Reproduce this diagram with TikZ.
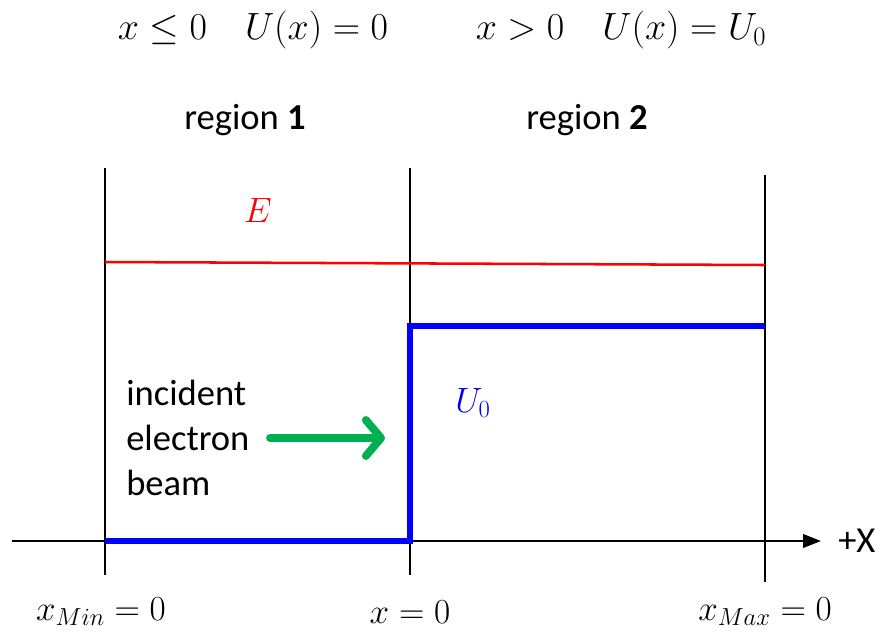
\RequirePackage{fix-cm}
\documentclass[tikz,border=0pt]{standalone}
\usepackage{fontspec}
\setsansfont{Carlito}
\usetikzlibrary{arrows.meta}
\definecolor{rojo}{HTML}{FF0000}
\definecolor{azul}{HTML}{0000FF}
\definecolor{verde}{HTML}{00B050}

\begin{document}
\begin{tikzpicture}[x=0.025cm, y=-0.025cm,
      wall/.style={line width=1.5pt},
      eq/.style={font=\fontsize{25}{30}\selectfont, inner sep=0pt},
      lab/.style={font=\sffamily\fontsize{26}{32}\selectfont, inner sep=0pt, align=left}]
    \useasboundingbox (0,0) rectangle (881,634);
    % walls and axis
    \foreach \n/\x/\t/\b in {wa/105/168/575, wb/410/168/575, wc/765/175/582}
      \draw[wall] (\x,\t) coordinate (\n top) -- (\x,\b) coordinate (\n bot);
    \coordinate (axl) at (12,541);
    \coordinate (axr) at (821,541);
    \draw[wall, -{Triangle[length=4.5mm, width=3.4mm]}] (axl) -- (axr);
    \node[lab, anchor=west] (plusx) at (838,541) {+X};
    % energy and potential
    \draw[rojo, line width=1.8pt] (105,262) -- (765,265);
    \node[eq, text=rojo] (en) at (258,210) {$E$};
    \draw[azul, line width=3.6pt] (105,541) -- (410,541) -- (410,326) -- (765,326);
    \node[eq, text=azul] (uo) at (473,403) {$U_0$};
    % beam
    \node[lab, anchor=west] (beam) at (126,438) {incident\\electron\\beam};
    \draw[verde, line width=5.6pt, line cap=round,
          -{Straight Barb[length=3.8mm, width=9mm, round]}] (270,438) -- (385,438);
    % labels
    \node[lab] (r1) at (245,120) {region \textbf{1}};
    \node[lab] (r2) at (587,120) {region \textbf{2}};
    \node[eq, font=\fontsize{27}{32}\selectfont] (c1) at (253,30) {$x\leq 0\quad U(x)=0$};
    \node[eq, font=\fontsize{27}{32}\selectfont] (c2) at (621,30) {$x>0\quad U(x)=U_0$};
    \node[eq] (xmin) at (101,612) {$x_{Min}=0$};
    \node[eq] (xmid) at (410,612) {$x=0$};
    \node[eq] (xmax) at (765,612) {$x_{Max}=0$};
  \end{tikzpicture}
\end{document}
